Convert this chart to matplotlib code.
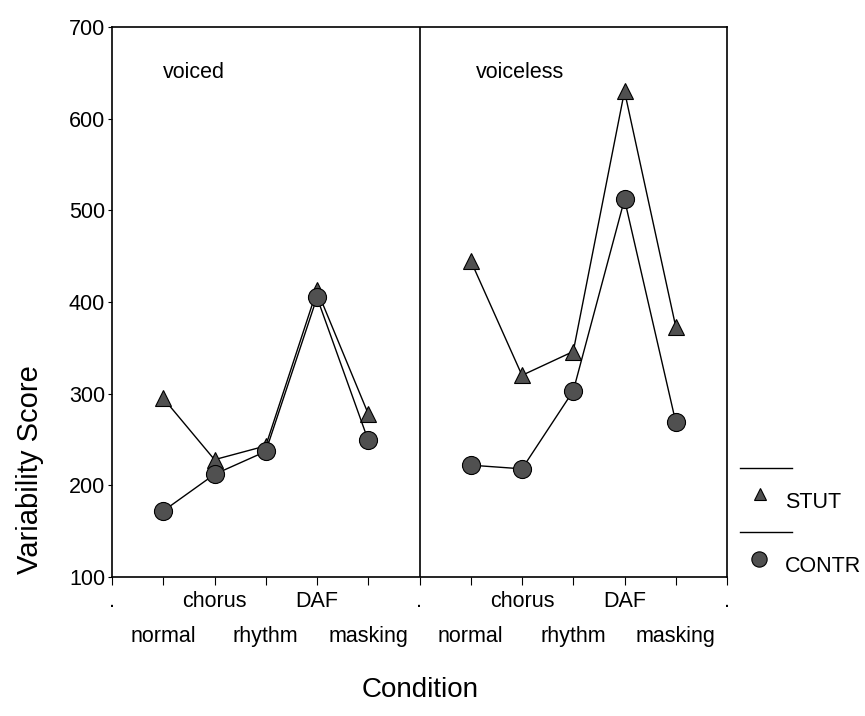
import matplotlib
matplotlib.use("Agg")
import matplotlib.pyplot as plt
from matplotlib.lines import Line2D
import numpy as np

plt.rcParams['font.family'] = ['Liberation Sans', 'DejaVu Sans']

conditions = ['normal', 'chorus', 'rhythm', 'DAF', 'masking']
panels = ['voiced', 'voiceless']
voiced_stut = [295, 228, 243, 413, 278]
voiced_contr = [172, 212, 237, 405, 249]
voiceless_stut = [445, 320, 346, 630, 373]
voiceless_contr = [222, 218, 303, 512, 269]
yticks = [100, 200, 300, 400, 500, 600, 700]

fig = plt.figure(figsize=(8.65, 7.16), dpi=100)
ax = fig.add_axes([112/865, 1-577/716, (727-112)/865, (577-27)/716])

fill = '#505050'
n = len(conditions)
series = [(voiced_stut, voiced_contr), (voiceless_stut, voiceless_contr)]
for p, (stut, contr) in enumerate(series):
    xs = np.arange(1, n + 1) + p * (n + 1)
    ax.plot(xs, stut, color='black', lw=1.0, marker='^', ms=11,
            mfc=fill, mec='black', mew=0.8, zorder=3)
    ax.plot(xs, contr, color='black', lw=1.0, marker='o', ms=13,
            mfc=fill, mec='black', mew=0.8, zorder=3)

ax.axvline(n + 1, color='black', lw=1.2)
ax.set_xlim(0, 2 * (n + 1))
ax.set_ylim(100, 700)
ax.set_yticks(yticks)
ax.tick_params(axis='y', direction='out', length=3, width=0.8, labelsize=15.5, pad=2)

# x ticks: upper row (major) and lower row (minor)
major_pos, major_lab, minor_pos, minor_lab = [], [], [], []
for p in range(2):
    base = p * (n + 1)
    major_pos.append(base); major_lab.append('.')
    for i, c in enumerate(conditions):
        pos = base + i + 1
        if i % 2 == 1:
            major_pos.append(pos); major_lab.append(c)
        else:
            minor_pos.append(pos); minor_lab.append(c)
major_pos.append(2 * (n + 1)); major_lab.append('.')
ax.set_xticks(major_pos)
ax.set_xticklabels(major_lab)
ax.set_xticks(minor_pos, minor=True)
ax.set_xticklabels(minor_lab, minor=True)
ax.tick_params(axis='x', which='both', direction='out', length=6, width=0.8, labelsize=15.5)
ax.tick_params(axis='x', which='major', pad=4)
ax.tick_params(axis='x', which='minor', pad=29)

for s in ax.spines.values():
    s.set_linewidth(1.2)

ax.text(1.0, 650, panels[0], fontsize=15.5, va='center', ha='left')
ax.text(7.1, 650, panels[1], fontsize=15.5, va='center', ha='left')

fig.text(420/865, 1-690/716, 'Condition', fontsize=20, ha='center', va='center')
fig.text(30/865, 1-470/716, 'Variability Score', fontsize=21, ha='center', va='center',
         rotation=90)

# legend (drawn manually, figure coords)
def fx(px):
    return px / 865
def fy(py):
    return 1 - py / 716

fig.add_artist(Line2D([fx(740), fx(792)], [fy(468), fy(468)], color='black', lw=1.0))
fig.add_artist(Line2D([fx(740), fx(792)], [fy(532), fy(532)], color='black', lw=1.0))
fig.add_artist(Line2D([fx(760)], [fy(494)], marker='^', ms=9, mfc=fill, mec='black',
                      mew=0.8, ls='none'))
fig.add_artist(Line2D([fx(759)], [fy(559)], marker='o', ms=11, mfc=fill, mec='black',
                      mew=0.8, ls='none'))
fig.text(fx(785), fy(503), 'STUT', fontsize=15.5, ha='left', va='center')
fig.text(fx(785), fy(567), 'CONTR', fontsize=15.5, ha='left', va='center')

fig.savefig('out.png', dpi=100)
